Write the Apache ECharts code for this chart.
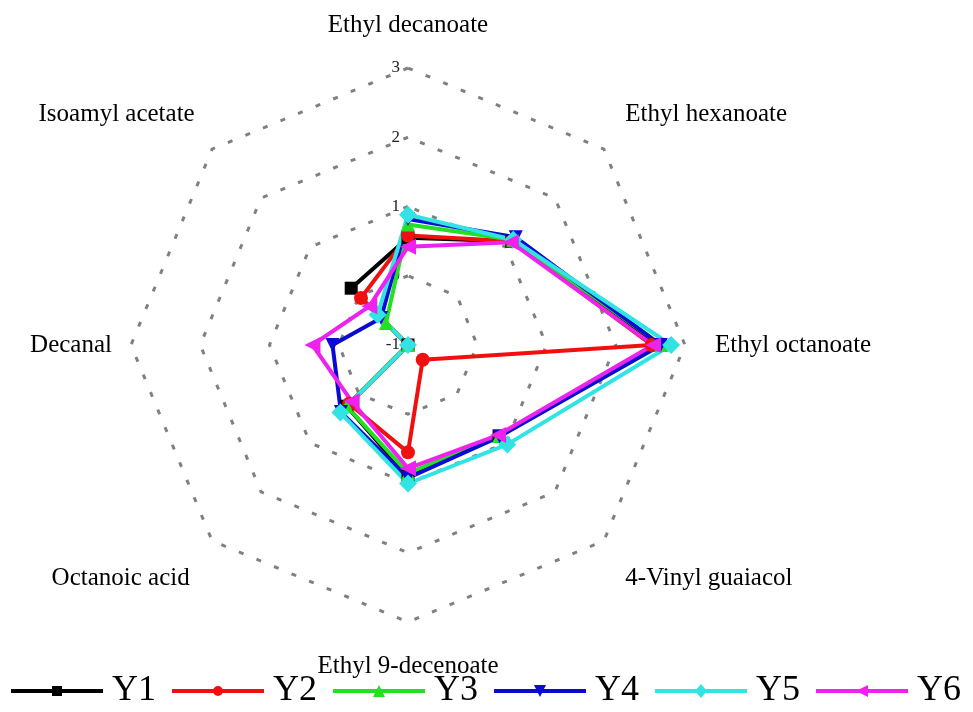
<!DOCTYPE html>
<html>
<head>
<meta charset="utf-8">
<script src="https://cdn.jsdelivr.net/npm/echarts@6/dist/echarts.min.js"></script>
<style>
  html, body { margin: 0; padding: 0; background: #fff; }
  #chart { width: 973px; height: 712px; }
</style>
</head>
<body>
<div id="chart"></div>
<script>
// Indicators in the radar's own (counter-clockwise from the top) order
const indicators = ['Ethyl decanoate', 'Isoamyl acetate', 'Decanal', 'Octanoic acid',
                    'Ethyl 9-decenoate', '4-Vinyl guaiacol', 'Ethyl octanoate', 'Ethyl hexanoate'];
const ringTicks = ['-1', '0', '1', '2', '3'];
const seriesNames = ['Y1', 'Y2', 'Y3', 'Y4', 'Y5', 'Y6'];

const Y1 = [0.55, 0.16, -1, 0.25, 0.90, 0.86, 2.60, 1.12];
const Y2 = [0.58, -0.04, -1, 0.20, 0.55, -0.70, 2.52, 1.12];
const Y3 = [0.74, -0.55, -1, 0.25, 0.85, 0.86, 2.66, 1.15];
const Y4 = [0.82, -0.45, 0.09, 0.37, 0.92, 0.87, 2.65, 1.20];
const Y5 = [0.88, -0.38, -1, 0.38, 1.00, 1.03, 2.80, 1.15];
const Y6 = [0.42, -0.21, 0.38, 0.15, 0.78, 0.84, 2.54, 1.10];

const allValues = [Y1, Y2, Y3, Y4, Y5, Y6];
const colors = ['#000000', '#f01010', '#22e022', '#0a0ad0', '#30e4e4', '#ee22ee'];
const symbols = ['rect', 'circle', 'triangle', 'triangle', 'diamond', 'triangle'];
const symbolRotations = [0, 0, 0, 180, 0, 90];
const symbolSizes = [13, 14, 14, 14, 18, 16];

// Legend glyphs: a thick line with the series marker in the middle (92 x 14 box)
const bar = 'M0,5 L92,5 L92,9 L0,9 Z ';
const legendIcons = [
  'path://' + bar + 'M41,2 L51,2 L51,12 L41,12 Z',
  'path://' + bar + 'M41,7 A5,5 0 1,1 51,7 A5,5 0 1,1 41,7 Z',
  'path://' + bar + 'M46,1 L52,13 L40,13 Z',
  'path://' + bar + 'M40,1 L52,1 L46,13 Z',
  'path://' + bar + 'M46,0 L52,7 L46,14 L40,7 Z',
  'path://' + bar + 'M40,7 L52,1 L52,13 Z'
];

// Per-name text nudges around the polygon
const nameStyleKey = {
  'Ethyl decanoate': 'top',
  'Isoamyl acetate': 'ul',
  'Decanal': 'left',
  'Octanoic acid': 'll',
  'Ethyl 9-decenoate': 'bottom',
  '4-Vinyl guaiacol': 'lr',
  'Ethyl octanoate': 'right',
  'Ethyl hexanoate': 'ur'
};

const serif = "'Liberation Serif', 'Times New Roman', serif";
const nameFont = { fontFamily: serif, fontSize: 25, color: '#000', lineHeight: 27 };

const chart = echarts.init(document.getElementById('chart'), null, { renderer: 'canvas' });

const indicatorOpts = indicators.map((name, i) => {
  const o = { name: name, min: -1, max: 3 };
  if (i === 0) {
    o.axisLabel = {
      show: true,
      fontFamily: serif,
      fontSize: 17,
      color: '#222',
      formatter: v => ringTicks[ringTicks.indexOf(String(v))]
    };
  }
  return o;
});

const option = {
  backgroundColor: '#ffffff',
  animation: false,
  legend: {
    data: seriesNames.map((n, k) => ({ name: n, icon: legendIcons[k], itemStyle: { color: colors[k] } })),
    left: 6,
    top: 668,
    itemWidth: 92,
    itemHeight: 14,
    itemGap: 16,
    textStyle: { fontFamily: serif, fontSize: 36, color: '#000', padding: [0, 0, 0, 4] }
  },
  radar: {
    center: [408, 345],
    radius: 277,
    startAngle: 90,
    splitNumber: 4,
    shape: 'polygon',
    nameGap: 19,
    axisName: {
      formatter: name => '{' + nameStyleKey[name] + '|' + name + '}',
      rich: {
        top: Object.assign({ padding: [0, 0, 21, 0] }, nameFont),
        bottom: Object.assign({ padding: [24, 0, 0, 0] }, nameFont),
        left: Object.assign({ padding: [0, 0, 0, 0] }, nameFont),
        right: Object.assign({ padding: [0, 0, 0, 11] }, nameFont),
        ul: Object.assign({ padding: [0, 4, 42, 0] }, nameFont),
        ur: Object.assign({ padding: [0, 0, 42, 8] }, nameFont),
        ll: Object.assign({ padding: [48, 9, 0, 0] }, nameFont),
        lr: Object.assign({ padding: [48, 0, 0, 8] }, nameFont)
      }
    },
    axisLine: { show: false },
    axisTick: { show: false },
    axisLabel: { show: false },
    splitArea: { show: false },
    splitLine: {
      lineStyle: { color: '#808080', width: 3, type: [5, 14] }
    },
    indicator: indicatorOpts
  },
  series: seriesNames.map((name, k) => ({
    type: 'radar',
    name: name,
    symbol: symbols[k],
    symbolRotate: symbolRotations[k],
    symbolSize: symbolSizes[k],
    lineStyle: { color: colors[k], width: 4 },
    itemStyle: { color: colors[k] },
    data: [{ value: allValues[k], name: name }]
  }))
};

chart.setOption(option);
</script>
</body>
</html>
